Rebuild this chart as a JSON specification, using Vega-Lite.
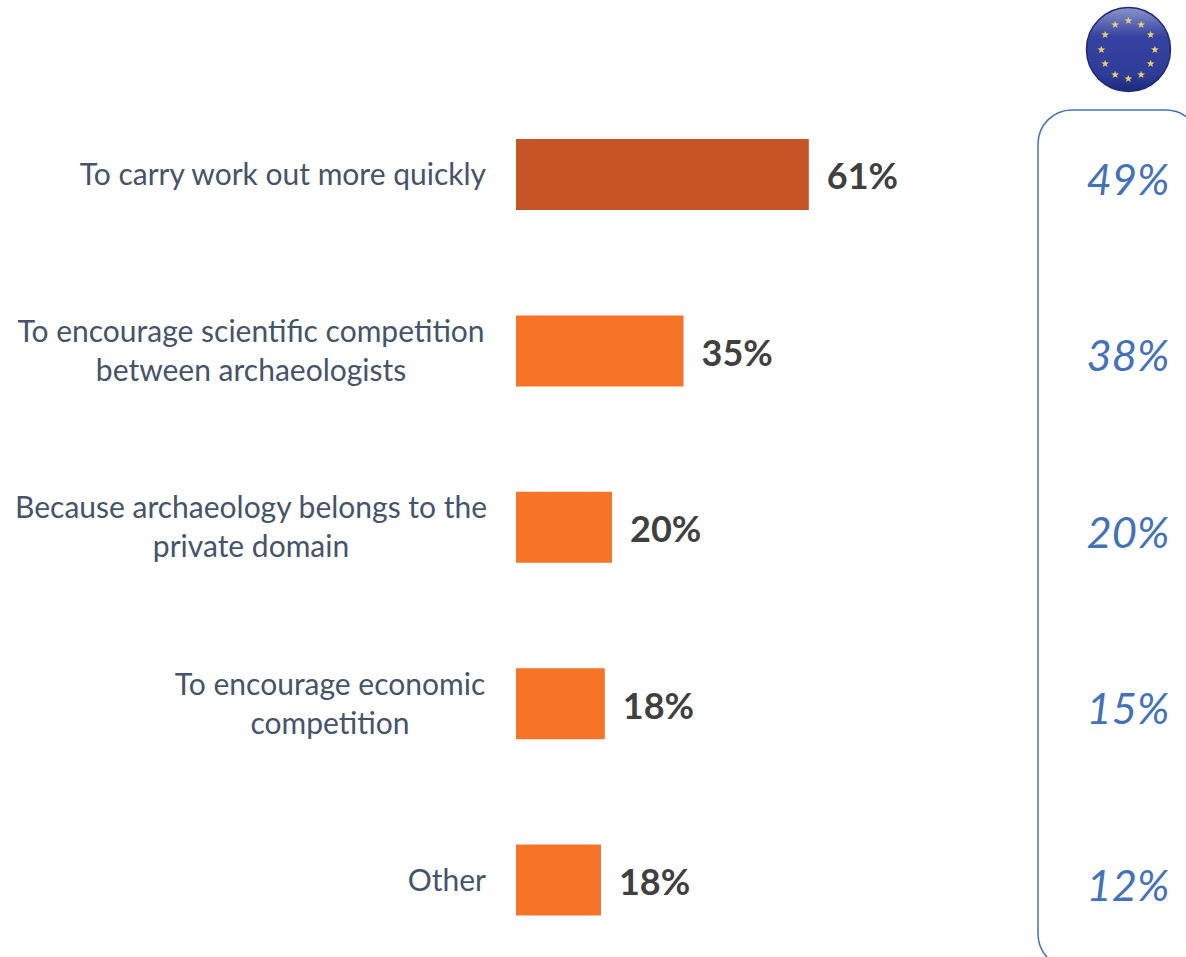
{
"$schema":"https://vega.github.io/schema/vega-lite/v6.json",
"width":1186,"height":957,"padding":0,
"autosize":{"type":"fit","contains":"padding"},
"background":"white",
"config":{"view":{"stroke":null}},
"datasets":{
"rows":[
{"label":"To carry work out more quickly","rank":1,"share":61,"shareText":"61%","eu":"49%","kind":"top","block":"single"},
{"label":"To encourage scientific competition\nbetween archaeologists","rank":2,"share":34.9,"shareText":"35%","eu":"38%","kind":"rest","block":"wide"},
{"label":"Because archaeology belongs to the\nprivate domain","rank":3,"share":20,"shareText":"20%","eu":"20%","kind":"rest","block":"wide"},
{"label":"To encourage economic\ncompetition","rank":4,"share":18.5,"shareText":"18%","eu":"15%","kind":"rest","block":"narrow"},
{"label":"Other","rank":5,"share":17.7,"shareText":"18%","eu":"12%","kind":"rest","block":"single"}
],
"stars":[
{"sx":127.56,"sy":0.128},{"sx":130.2,"sy":0.151},{"sx":132.2,"sy":0.209},{"sx":133.06,"sy":0.294},
{"sx":132.2,"sy":0.374},{"sx":130.2,"sy":0.434},{"sx":127.56,"sy":0.457},{"sx":124.8,"sy":0.434},
{"sx":122.7,"sy":0.374},{"sx":121.9,"sy":0.294},{"sx":122.7,"sy":0.209},{"sx":124.8,"sy":0.151}
]
},
"layer":[
{"data":{"values":[{"a":108.75,"b":142.5,"c":0.634,"d":5.499}]},
 "mark":{"type":"rect","fill":"white","stroke":"#4472b8","strokeWidth":1.5,"cornerRadius":34,"clip":true},
 "encoding":{
  "x":{"field":"a","type":"quantitative","scale":{"domain":[-107.5,139.583],"range":[0,1186],"padding":0,"nice":false,"zero":false},"axis":null},
  "x2":{"field":"b"},
  "y":{"field":"c","type":"quantitative","scale":{"domain":[0.0108,5.436],"range":[0,957],"padding":0,"nice":false,"zero":false},"axis":null},
  "y2":{"field":"d"}}},
{"data":{"name":"rows"},
 "mark":{"type":"bar","orient":"horizontal","size":71},
 "encoding":{
  "x":{"field":"share","type":"quantitative","stack":null},
  "y":{"field":"rank","type":"quantitative"},
  "color":{"field":"kind","type":"nominal","scale":{"domain":["top","rest"],"range":["#c55527","#f57428"]},"legend":null}}},
{"data":{"name":"rows"},
 "mark":{"type":"text","align":"left","baseline":"middle","dx":18,"dy":4,"font":"Lato","fontWeight":"bold","fontSize":36,"fill":"#404040"},
 "encoding":{"x":{"field":"share","type":"quantitative"},"y":{"field":"rank","type":"quantitative"},"text":{"field":"shareText"}}},
{"data":{"name":"rows"},
 "mark":{"type":"text","align":"center","baseline":"middle","dy":7.5,"font":"Lato","fontStyle":"italic","fontSize":43.5,"fill":"#4472b8"},
 "encoding":{"x":{"datum":127.5},"y":{"field":"rank","type":"quantitative"},"text":{"field":"eu"}}},
{"data":{"name":"rows"},"transform":[{"filter":"datum.block==='single'"}],
 "mark":{"type":"text","align":"right","baseline":"middle","dy":1.5,"font":"Lato","fontSize":30,"fill":"#44546a"},
 "encoding":{"x":{"datum":-6.25},"y":{"field":"rank","type":"quantitative"},"text":{"field":"label"}}},
{"data":{"name":"rows"},"transform":[{"filter":"datum.block==='wide'"}],
 "mark":{"type":"text","align":"center","baseline":"middle","dy":-18,"lineBreak":"\n","lineHeight":39,"font":"Lato","fontSize":30,"fill":"#44546a"},
 "encoding":{"x":{"datum":-55.2},"y":{"field":"rank","type":"quantitative"},"text":{"field":"label"}}},
{"data":{"name":"rows"},"transform":[{"filter":"datum.block==='narrow'"}],
 "mark":{"type":"text","align":"center","baseline":"middle","dy":-18,"lineBreak":"\n","lineHeight":39,"font":"Lato","fontSize":30,"fill":"#44546a"},
 "encoding":{"x":{"datum":-38.75},"y":{"field":"rank","type":"quantitative"},"text":{"field":"label"}}},
{"data":{"values":[{"cx":127.6,"cy":0.291}]},
 "mark":{"type":"point","shape":"circle","filled":true,"size":7056,"opacity":1,"stroke":"#1c2a78","strokeWidth":1.5,
  "fill":{"gradient":"linear","x1":0,"y1":0,"x2":0,"y2":1,"stops":[{"offset":0,"color":"#8a94cc"},{"offset":0.35,"color":"#35429f"},{"offset":0.8,"color":"#2f3c98"},{"offset":1,"color":"#1c2a78"}]}},
 "encoding":{"x":{"field":"cx","type":"quantitative"},"y":{"field":"cy","type":"quantitative"}}},
{"data":{"name":"stars"},
 "mark":{"type":"text","text":"★","align":"center","baseline":"middle","fontSize":10,"font":"DejaVu Sans","fill":"#e8cf6a"},
 "encoding":{"x":{"field":"sx","type":"quantitative"},"y":{"field":"sy","type":"quantitative"}}}
]
}
